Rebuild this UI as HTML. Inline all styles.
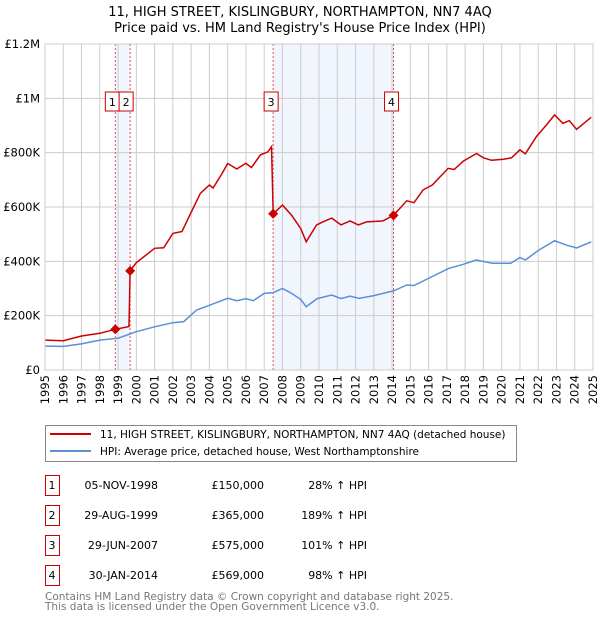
<!DOCTYPE html>
<html><head><meta charset="utf-8"><style>
body{margin:0;background:#fff;font-family:"DejaVu Sans","Liberation Sans",sans-serif;}
svg text{font-family:"DejaVu Sans","Liberation Sans",sans-serif;}
</style></head><body>
<svg id="chart" width="600" height="620" xmlns="http://www.w3.org/2000/svg">
<text x="300" y="16" text-anchor="middle" font-size="13">11, HIGH STREET, KISLINGBURY, NORTHAMPTON, NN7 4AQ</text>
<text x="300" y="32" text-anchor="middle" font-size="13">Price paid vs. HM Land Registry's House Price Index (HPI)</text>
<g id="shades"></g><g id="grid"></g><g id="vlines"></g><g id="series"></g><g id="axes"></g>
<g>
<rect x="45.5" y="425.5" width="471" height="36" fill="#fff" stroke="#888"/>
<line x1="50" y1="434" x2="91" y2="434" stroke="#cc0000" stroke-width="2"/>
<text x="100" y="438" font-size="10.5">11, HIGH STREET, KISLINGBURY, NORTHAMPTON, NN7 4AQ (detached house)</text>
<line x1="50" y1="451" x2="91" y2="451" stroke="#5b8fd6" stroke-width="2"/>
<text x="100" y="455" font-size="10.5">HPI: Average price, detached house, West Northamptonshire</text>
</g>
<g id="table"></g>
<text x="45" y="600" font-size="10.5" fill="#777">Contains HM Land Registry data © Crown copyright and database right 2025.</text>
<text x="45" y="610" font-size="10.5" fill="#777">This data is licensed under the Open Government Licence v3.0.</text>
</svg>
<script>
const yearTicks=[1995,1996,1997,1998,1999,2000,2001,2002,2003,2004,2005,2006,2007,2008,2009,2010,2011,2012,2013,2014,2015,2016,2017,2018,2019,2020,2021,2022,2023,2024,2025];
const valueTicks=[0,200,400,600,800,1000,1200];
const valueTickLabels=["£0","£200K","£400K","£600K","£800K","£1M","£1.2M"];
const saleYears=[1998.85,1999.66,2007.49,2014.08];
const saleValues=[150,365,575,569];
const saleDates=["05-NOV-1998","29-AUG-1999","29-JUN-2007","30-JAN-2014"];
const salePrices=["£150,000","£365,000","£575,000","£569,000"];
const salePcts=["28% ↑ HPI","189% ↑ HPI","101% ↑ HPI","98% ↑ HPI"];
const redYears=[1995,1996,1997,1998,1998.85,1999.6,1999.66,2000,2001,2001.5,2002,2002.5,2003,2003.5,2004,2004.2,2004.7,2005,2005.5,2006,2006.3,2006.8,2007.2,2007.4,2007.49,2008,2008.5,2009,2009.3,2009.87,2010.2,2010.7,2011.2,2011.7,2012.15,2012.6,2013.5,2014.08,2014.8,2015.2,2015.7,2016.2,2017.07,2017.4,2017.9,2018.63,2019,2019.45,2020.1,2020.54,2021,2021.3,2021.9,2022.45,2022.9,2023.35,2023.7,2024.1,2024.9];
const redValues=[110,108,125,135,150,160,365,395,448,450,503,510,580,650,681,670,724,760,740,761,745,792,803,822,575,607,570,521,472,534,545,559,534,549,534,545,549,569,623,616,663,681,742,738,769,797,781,772,776,781,810,796,859,902,939,908,918,886,930];
const blueYears=[1995,1996,1997,1998,1999,2000,2001,2002,2002.6,2003.3,2004,2005,2005.5,2006,2006.4,2007,2007.5,2008,2008.5,2009,2009.3,2009.9,2010.7,2011.2,2011.7,2012.2,2013,2014.08,2014.8,2015.2,2016.2,2017.1,2017.9,2018.6,2019.5,2020.5,2021,2021.3,2022,2022.9,2023.5,2024.1,2024.9];
const blueValues=[88,87,96,110,117,141,159,174,178,221,238,264,255,263,255,282,285,300,282,260,233,263,276,263,272,264,274,291,313,311,344,374,389,405,393,393,414,405,440,476,461,449,472];

const X0=45,X1=593,Y0=370,Y1=44;
const sx=y=>X0+(y-1995)/30*(X1-X0);
const sy=v=>Y0-v/1200*(Y0-Y1);
const NS="http://www.w3.org/2000/svg";
function mk(parent,tag,attrs){const e=document.createElementNS(NS,tag);for(const k in attrs)e.setAttribute(k,attrs[k]);document.getElementById(parent).appendChild(e);return e;}

[[0,1],[2,3]].forEach(([a,b],i)=>{
 const r=mk('shades','rect',{x:sx(saleYears[a]),y:Y1,width:sx(saleYears[b])-sx(saleYears[a]),height:Y0-Y1,fill:'#eef3fd',opacity:0.8});
 
 
});
yearTicks.forEach(y=>{
 const l=mk('grid','line',{x1:sx(y),x2:sx(y),y1:Y1,y2:Y0,stroke:'#cccccc','stroke-width':1});
 
 
 const t=mk('axes','text',{x:0,y:0,'font-size':11.5,'text-anchor':'end',transform:`translate(${sx(y)+4},375) rotate(-90)`});
 t.textContent=y;
 
 
});
valueTicks.forEach((v,i)=>{
 const l=mk('grid','line',{x1:X0,x2:X1,y1:sy(v),y2:sy(v),stroke:'#cccccc','stroke-width':1});
 
 
 const t=mk('axes','text',{x:40,y:sy(v)+4,'font-size':11.5,'text-anchor':'end'});
 t.textContent=valueTickLabels[i];
 
 
});
saleYears.forEach((y,i)=>{
 const l=mk('vlines','line',{x1:sx(y),x2:sx(y),y1:Y1,y2:Y0,stroke:'#e05050','stroke-width':1,'stroke-dasharray':'2,2'});
 
 
 const bx=(i==0)?sx(y)-10:(i==1?sx(y)-11:sx(y)-9);
 const b=mk('vlines','rect',{x:bx,y:92,width:14,height:19,fill:'#fff',stroke:'#cc0000'});
 
 
 const t=mk('vlines','text',{x:bx+7,y:106,'font-size':11,'text-anchor':'middle'});
 t.textContent=i+1;
 
 
});
const pts=(xs,vs)=>xs.map((y,i)=>sx(y).toFixed(1)+','+sy(vs[i]).toFixed(1)).join(' ');
const bl=mk('series','polyline',{points:pts(blueYears,blueValues),fill:'none',stroke:'#5b8fd6','stroke-width':1.5});


const rl=mk('series','polyline',{points:pts(redYears,redValues),fill:'none',stroke:'#cc0000','stroke-width':1.5});


saleYears.forEach((y,i)=>{
 const cx=sx(y),cy=sy(saleValues[i]);
 const d=mk('series','polygon',{points:`${cx},${cy-5} ${cx+5},${cy} ${cx},${cy+5} ${cx-5},${cy}`,fill:'#cc0000'});
 
 
});
mk('axes','rect',{x:X0,y:Y1,width:X1-X0,height:Y0-Y1,fill:'none',stroke:'#cccccc'});
saleDates.forEach((d,i)=>{
 const y0=475+i*30;
 const b=mk('table','rect',{x:45.5,y:y0+0.5,width:14,height:20,fill:'#fff',stroke:'#cc0000'});
 
 
 const vals=[[52,'middle',String(i+1)],[158,'end',d],[264,'end',salePrices[i]],[367,'end',salePcts[i]]];
 vals.forEach(([x,a,s],j)=>{
  const t=mk('table','text',{x:x,y:y0+14,'font-size':11,'text-anchor':a});
  t.textContent=s;
  
  
 });
});
</script>
</body></html>
